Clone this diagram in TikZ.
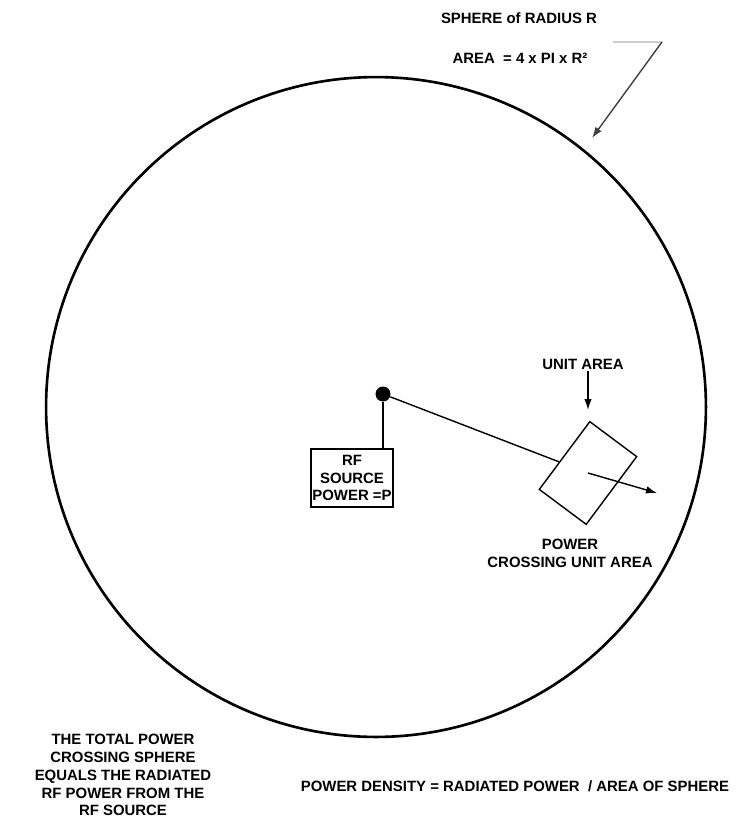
\documentclass[tikz,border=0pt]{standalone}
\usepackage{fontspec}
\setmainfont{Liberation Sans}
\usepackage{tikz}
\usetikzlibrary{positioning,arrows.meta}

\begin{document}
\begin{tikzpicture}[
			x=0.02cm, y=-0.02cm,
			txt/.style={font=\fontsize{8.5}{10.2}\selectfont\bfseries, align=center, inner sep=1pt},
			srcbox/.style={draw, line width=1.1pt, minimum width=1.64cm, minimum height=1.16cm, inner sep=1pt, align=center, font=\fontsize{8.5}{10.2}\selectfont\bfseries},
			areabox/.style={draw, line width=0.8pt, minimum width=1.17cm, minimum height=1.69cm, rotate=-36.7},
			arrow/.style={-{Latex[length=2.2mm,width=1.5mm]}, line width=0.8pt}
			]
	\useasboundingbox (0,0) rectangle (746,819);
	
	%% Sphere and its labels
	\node[draw, circle, line width=1.5pt, minimum size=13.2cm] (sphere) at (376,407) {};
	\node[txt] (radius) at (519,18) {SPHERE of RADIUS R};
	\node[txt, below=0.5cm of radius, xshift=0.02cm] (area) {AREA\ \ = 4 x PI x R²};
	\coordinate (tail) at (613,42);
	\coordinate (bend) at (662,42);
	\coordinate (hit) at (592,138);
	\draw[gray!40, line width=0.8pt] (tail) -- (bend);
	\draw[arrow, black!75] (bend) -- (hit);
	
	%% RF source
	\node[circle, fill, inner sep=0pt, minimum size=0.3cm] (src) at (383,394) {};
	\node[srcbox] (rfbox) at (352,478) {RF\\SOURCE\\POWER =P};
	\draw[line width=0.8pt] (src) -- (src |- rfbox.north);
	
	%% Unit area
	\node[areabox] (unit) at (588,473) {};
	\coordinate (tip) at (657,493);
	\draw[line width=0.8pt] (src) -- (unit);
	\draw[arrow] (unit.center) -- (tip);
	\node[txt] (unitlbl) at (583,364) {UNIT AREA};
	\coordinate (unitpt) at (588,410);
	\draw[arrow] (unitlbl.south -| unitpt) -- (unitpt);
	\node[txt] (crossing) at (570,553) {POWER\\CROSSING UNIT AREA};
	
	%% Notes at the bottom
	\node[txt] (total) at (123,775) {THE TOTAL POWER\\CROSSING SPHERE\\EQUALS THE RADIATED\\RF POWER FROM THE\\RF SOURCE};
	\node[txt] (density) at (515,786) {POWER DENSITY = RADIATED POWER\ \ / AREA OF SPHERE};
	
\end{tikzpicture}
\end{document}
